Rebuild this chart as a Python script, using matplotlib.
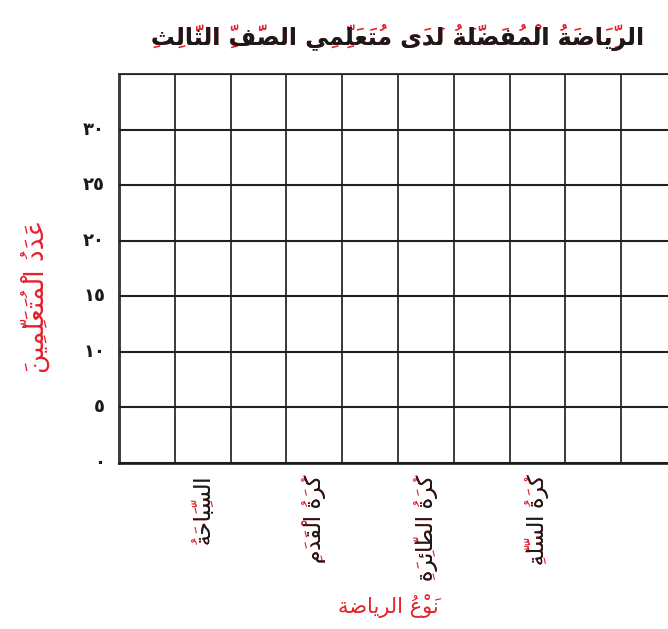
import matplotlib
matplotlib.use("Agg")
import matplotlib.pyplot as plt

# ---- chart content (blank template: no bars drawn) ----
title = "الرِّيَاضَةُ الْمُفَضَّلَةُ لَدَى مُتَعَلِّمِي الصَّفِّ الثَّالِثِ"
ylabel = "عَدَدُ الْمُتَعَلِّمِينَ"
xlabel = "نَوْعُ الرياضة"
sports = ["السِّبَاحَةُ", "كُرَةُ الْقَدَمِ", "كُرَةُ الطَّائِرَةِ", "كُرَةُ السَّلَّةِ"]
sport_pos = [1.5, 3.5, 5.5, 7.5]
yticks = [0, 5, 10, 15, 20, 25, 30]
ytick_labels = ["٠", "٥", "١٠", "١٥", "٢٠", "٢٥", "٣٠"]

RED = "#e3202b"
INK = "#1a1a1a"
FONT = "DejaVu Sans"

# ---- minimal Arabic shaping (matplotlib 3.10 has no complex text layout) ----
JOIN4 = {"ئ": 0xFE89, "ب": 0xFE8F, "ت": 0xFE95, "ث": 0xFE99, "ج": 0xFE9D,
         "ح": 0xFEA1, "خ": 0xFEA5, "س": 0xFEB1, "ش": 0xFEB5, "ص": 0xFEB9,
         "ض": 0xFEBD, "ط": 0xFEC1, "ظ": 0xFEC5, "ع": 0xFEC9, "غ": 0xFECD,
         "ف": 0xFED1, "ق": 0xFED5, "ك": 0xFED9, "ل": 0xFEDD, "م": 0xFEE1,
         "ن": 0xFEE5, "ه": 0xFEE9, "ي": 0xFEF1}
JOIN2 = {"آ": 0xFE81, "أ": 0xFE83, "ؤ": 0xFE85, "إ": 0xFE87, "ا": 0xFE8D,
         "ة": 0xFE93, "د": 0xFEA9, "ذ": 0xFEAB, "ر": 0xFEAD, "ز": 0xFEAF,
         "و": 0xFEED, "ى": 0xFEEF}
LAMALEF = {"آ": 0xFEF5, "أ": 0xFEF7, "إ": 0xFEF9, "ا": 0xFEFB}


def is_mark(c):
    return 0x064B <= ord(c) <= 0x0652 or ord(c) == 0x0670


def shape(s, marks=True):
    clusters = []
    for c in s:
        if is_mark(c) and clusters:
            clusters[-1][1].append(c)
        else:
            clusters.append([c, []])
    # lam-alef ligature
    merged = []
    for cl in clusters:
        if merged and merged[-1][0] == "ل" and cl[0] in LAMALEF:
            merged[-1] = ["LA" + cl[0], merged[-1][1] + cl[1]]
        else:
            merged.append(cl)
    out = []
    for i, (b, mk) in enumerate(merged):
        prev = merged[i - 1][0] if i > 0 else ""
        nxt = merged[i + 1][0] if i + 1 < len(merged) else ""
        jp = prev in JOIN4
        jn = nxt in JOIN4 or nxt in JOIN2 or nxt.startswith("LA")
        if b.startswith("LA"):
            g = chr(LAMALEF[b[2]] + (1 if jp else 0))
        elif b in JOIN4:
            g = chr(JOIN4[b] + (3 if jp and jn else 1 if jp else 2 if jn else 0))
        elif b in JOIN2:
            g = chr(JOIN2[b] + (1 if jp else 0))
        else:
            g = b
        # zero-advance marks go in front so they land on their letter
        out.append(("".join(mk) if marks else "") + g)
    return "".join(reversed(out))


def ar_text(ax, x, y, s, size, base_color, mark_color, weight="normal", **kw):
    """Arabic text with differently coloured harakat: full text in mark colour,
    then the bare letters on top in the base colour."""
    common = dict(fontsize=size, family=FONT, weight=weight,
                  rotation_mode="anchor", **kw)
    ax.text(x, y, shape(s), color=mark_color, **common)
    if base_color != mark_color:
        ax.text(x, y, shape(s, marks=False), color=base_color, **common)


W, H = 668, 629
fig = plt.figure(figsize=(W / 100, H / 100), dpi=100)
left, right, top, bottom = 119, 677, 74, 463
ax = fig.add_axes([left / W, 1 - bottom / H, (right - left) / W, (bottom - top) / H])
ax.set_xlim(0, 10)
ax.set_ylim(0, 35)
ax.set_xticks(range(11))
ax.set_yticks(range(0, 36, 5))
ax.xaxis.grid(True, color="#3a3a3a", lw=1.4)
ax.yaxis.grid(True, color="#202020", lw=1.5)
ax.tick_params(length=0, labelbottom=False, labelleft=False)
for sp in ax.spines.values():
    sp.set_color(INK)
    sp.set_linewidth(1.9)
ax.spines["top"].set_linewidth(1.4)
ax.spines["top"].set_color("#3a3a3a")
ax.set_axisbelow(False)

# y tick labels (Eastern Arabic digits)
for v, lab in zip(yticks, ytick_labels):
    ax.text(-0.25, v, lab, ha="right", va="center", fontsize=13,
            weight="bold", family=FONT, color=INK)

# x category labels, vertical
for p, s in zip(sport_pos, sports):
    ar_text(ax, p + 0.12, -1.05, s, 15.5, INK, RED, ha="right", va="baseline",
            rotation=90)

ft = fig.transFigure
ar_text(fig, 398 / W, 1 - 45 / H, title, 17, INK, RED, weight="bold",
        ha="center", va="baseline", transform=ft)
ar_text(fig, 44 / W, 1 - 296 / H, ylabel, 19, RED, RED, ha="center",
        va="baseline", rotation=90, transform=ft)
ar_text(fig, 388 / W, 1 - 613 / H, xlabel, 15, RED, RED, ha="center",
        va="baseline", transform=ft)

fig.savefig("out.png", dpi=100)
